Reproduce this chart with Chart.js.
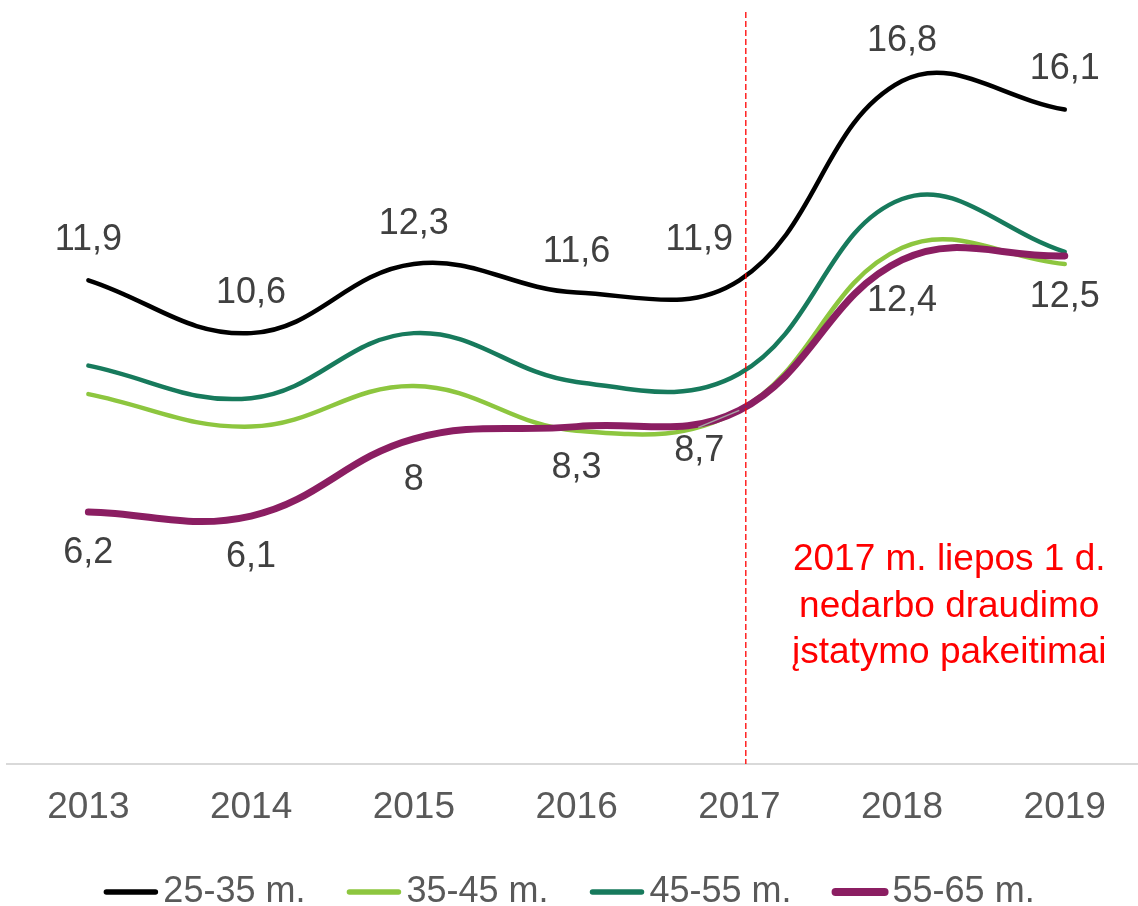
<!DOCTYPE html>
<html>
<head>
<meta charset="utf-8">
<script src="https://cdn.jsdelivr.net/npm/chart.js@4"></script>
<style>
  html, body { margin: 0; padding: 0; background: #fff; }
</style>
</head>
<body>
<canvas id="chart" width="1138" height="906"></canvas>
<script>
const years = ['2013', '2014', '2015', '2016', '2017', '2018', '2019'];
const age25_35 = [11.9, 10.6, 12.3, 11.6, 11.9, 16.8, 16.1];
const age35_45 = [9.1, 8.3, 9.3, 8.2, 8.7, 12.7, 12.3];
const age45_55 = [9.8, 9.0, 10.6, 9.4, 9.6, 13.9, 12.6];
const age55_65 = [6.2, 6.1, 8.0, 8.3, 8.7, 12.4, 12.5];
const seriesNames = ['25-35 m.', '35-45 m.', '45-55 m.', '55-65 m.'];
const noteLines = ['2017 m. liepos 1 d.', 'nedarbo draudimo', 'įstatymo pakeitimai'];
const changeAt = 4.04; // just after 2017 on the x scale

const FONT = '"Liberation Sans", Arial, sans-serif';

function pts(vals) {
  return vals.map((v, i) => ({ x: i, y: v }));
}

// value labels for the top and bottom series
const valueLabels = {
  id: 'valueLabels',
  afterDatasetsDraw(chart) {
    const ctx = chart.ctx;
    ctx.save();
    ctx.font = '36px ' + FONT;
    ctx.fillStyle = '#404040';
    ctx.textAlign = 'center';
    ctx.textBaseline = 'middle';
    [[0, -40], [3, 41]].forEach(([di, dy]) => {
      const meta = chart.getDatasetMeta(di);
      meta.data.forEach((p, i) => {
        const dx = i === 4 ? -40 : 0;
        const v = chart.data.datasets[di].data[i].y;
        if (di === 3 && i === 4) {
          ctx.strokeStyle = '#a6a6a6';
          ctx.lineWidth = 1.5;
          ctx.beginPath();
          ctx.moveTo(p.x - 41, p.y + 17);
          ctx.lineTo(p.x, p.y);
          ctx.stroke();
        }
        ctx.fillText(String(v).replace('.', ','), p.x + dx, p.y + dy);
      });
    });
    ctx.restore();
  }
};

// dashed marker line + red note
const lawChange = {
  id: 'lawChange',
  afterDatasetsDraw(chart) {
    const ctx = chart.ctx;
    const area = chart.chartArea;
    const x = chart.scales.x.getPixelForValue(changeAt);
    ctx.save();
    ctx.strokeStyle = '#ff0000';
    ctx.lineWidth = 1.3;
    ctx.setLineDash([6, 3]);
    ctx.beginPath();
    ctx.moveTo(x, area.top);
    ctx.lineTo(x, area.bottom);
    ctx.stroke();
    ctx.setLineDash([]);
    ctx.font = '37px ' + FONT;
    ctx.fillStyle = '#ff0000';
    ctx.textAlign = 'center';
    ctx.textBaseline = 'alphabetic';
    const cx = chart.scales.x.getPixelForValue(5.29);
    noteLines.forEach((t, i) => {
      ctx.fillText(t, cx, 570 + i * 46.5);
    });
    ctx.restore();
  }
};

// legend drawn as short lines under the axis
const bottomLegend = {
  id: 'bottomLegend',
  afterDraw(chart) {
    const ctx = chart.ctx;
    const sets = chart.data.datasets;
    ctx.save();
    ctx.font = '36px ' + FONT;
    const lineW = 55, gap = 5, space = 41;
    const widths = sets.map(ds => lineW + gap + ctx.measureText(ds.label).width);
    const total = widths.reduce((a, b) => a + b, 0) + space * (sets.length - 1);
    let x = (chart.width - total) / 2;
    const y = 892;
    sets.forEach((ds, i) => {
      ctx.strokeStyle = ds.borderColor;
      ctx.lineWidth = ds.borderWidth + 1;
      ctx.lineCap = 'round';
      ctx.beginPath();
      ctx.moveTo(x + 3, y);
      ctx.lineTo(x + lineW - 3, y);
      ctx.stroke();
      ctx.fillStyle = '#595959';
      ctx.textAlign = 'left';
      ctx.textBaseline = 'middle';
      ctx.fillText(ds.label, x + lineW + gap, y);
      x += widths[i] + space;
    });
    ctx.restore();
  }
};

new Chart(document.getElementById('chart'), {
  type: 'line',
  data: {
    datasets: [
      { label: seriesNames[0], data: pts(age25_35), borderColor: '#000000', borderWidth: 4.5, order: 1 },
      { label: seriesNames[1], data: pts(age35_45), borderColor: '#8dc63f', borderWidth: 4.5, order: 3 },
      { label: seriesNames[2], data: pts(age45_55), borderColor: '#177a5c', borderWidth: 4.5, order: 2 },
      { label: seriesNames[3], data: pts(age55_65), borderColor: '#8b1e62', borderWidth: 7, order: 0 }
    ]
  },
  options: {
    responsive: false,
    devicePixelRatio: 1,
    animation: false,
    layout: { padding: { left: 7, right: 0, top: 12, bottom: 0 } },
    elements: {
      point: { radius: 0, hoverRadius: 0 },
      line: { tension: 0.4, fill: false, borderCapStyle: 'round', borderJoinStyle: 'round' }
    },
    plugins: {
      legend: { display: false },
      tooltip: { enabled: false }
    },
    scales: {
      x: {
        type: 'linear',
        min: -0.5,
        max: 6.45,
        grid: { display: false, drawTicks: false },
        border: { display: true, color: '#d9d9d9', width: 2 },
        afterBuildTicks: s => { s.ticks = years.map((_, i) => ({ value: i })); },
        afterFit: s => { s.height = 142; },
        ticks: {
          padding: 22,
          color: '#595959',
          font: { family: FONT, size: 37 },
          maxRotation: 0,
          autoSkip: false,
          callback: v => years[v]
        }
      },
      y: {
        display: false,
        min: 0,
        max: 18.5
      }
    }
  },
  plugins: [valueLabels, lawChange, bottomLegend]
});
</script>
</body>
</html>
